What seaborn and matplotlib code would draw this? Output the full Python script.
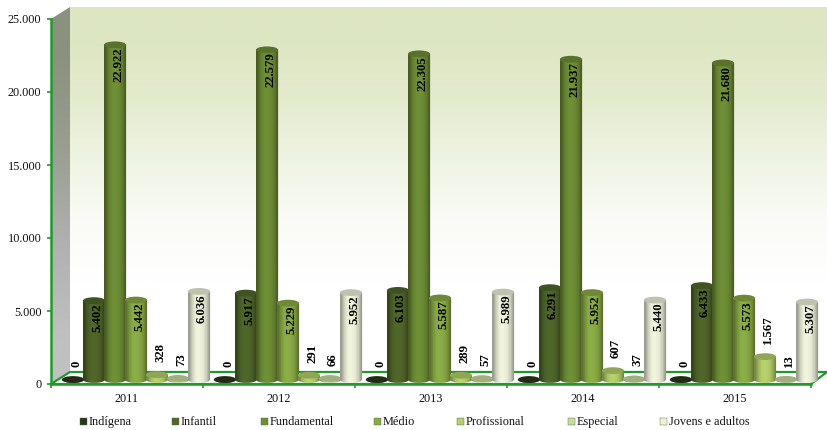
import numpy as np
import pandas as pd
import seaborn as sns
import matplotlib.pyplot as plt
from matplotlib.colors import to_rgb
from matplotlib.patches import Ellipse, Polygon, Rectangle

years = ["2011", "2012", "2013", "2014", "2015"]
indigena = [0, 0, 0, 0, 0]
infantil = [5402, 5917, 6103, 6291, 6433]
fundamental = [22922, 22579, 22305, 21937, 21680]
medio = [5442, 5229, 5587, 5952, 5573]
profissional = [328, 291, 289, 607, 1567]
especial = [73, 66, 57, 37, 13]
jovens = [6036, 5952, 5989, 5440, 5307]

names = ["Indígena", "Infantil", "Fundamental", "Médio", "Profissional", "Especial", "Jovens e adultos"]
colors = ["#2b3619", "#4f6629", "#6f8e36", "#8bac45", "#b5d06a", "#c9d9a0", "#eef2da"]
legend_x = [80, 172, 261, 374, 457, 568, 660]
yticks = [0, 5000, 10000, 15000, 20000, 25000]
ytick_labels = ["0", "5.000", "10.000", "15.000", "20.000", "25.000"]

df = pd.DataFrame({
    "ano": years * 7,
    "tipo": [n for n in names for _ in years],
    "valor": indigena + infantil + fundamental + medio + profissional + especial + jovens,
})

W, H = 827, 430
GREEN = "#1f9a2c"

sns.set_theme(style="white")
plt.rcParams["font.family"] = ["Liberation Serif", "DejaVu Serif"]

fig = plt.figure(figsize=(W / 100, H / 100), dpi=100)
fig.patch.set_facecolor("white")

# background in pixel coordinates: back wall, side wall, floor, legend
bg = fig.add_axes([0, 0, 1, 1], zorder=0)
bg.set_xlim(0, W)
bg.set_ylim(H, 0)
bg.axis("off")

wall = np.array([[to_rgb("#dde6c2")], [to_rgb("#e3ebcd")], [to_rgb("#eef4e3")], [to_rgb("#fafbf6")], [(1, 1, 1)], [(1, 1, 1)]])
bg.imshow(wall, extent=(70, W, 372, 7), aspect="auto", interpolation="bilinear", zorder=1)
side = np.array([[to_rgb("#8a917c")], [to_rgb("#999e90")], [to_rgb("#b0b0b0")], [to_rgb("#c0c0c0")]])
im = bg.imshow(side, extent=(51, 70, 384, 7), aspect="auto", interpolation="bilinear", zorder=1)
im.set_clip_path(Polygon([(51, 19), (70, 7), (70, 372), (51, 384)], transform=bg.transData))
bg.set_xlim(0, W)
bg.set_ylim(H, 0)
bg.add_patch(Polygon([(51, 384), (70, 372), (827, 372), (811, 384)], facecolor="white", edgecolor=GREEN, lw=1.6, zorder=2))

for x, name, color in zip(legend_x, names, colors):
    bg.add_patch(Rectangle((x, 418), 7, 7, facecolor=color, edgecolor="#55683a", lw=0.3, zorder=2))
    bg.text(x + 9, 425, name, fontsize=8.8, va="baseline", ha="left", color="#111111")

# front axis with the ticks and labels
ax = fig.add_axes([51 / W, (H - 384) / H, 760 / W, 365 / H], zorder=1)
ax.patch.set_alpha(0)
ax.set_xlim(-0.5, 4.5)
ax.set_ylim(0, 25000)
for s in ["top", "right"]:
    ax.spines[s].set_visible(False)
for s in ["left", "bottom"]:
    ax.spines[s].set_color(GREEN)
    ax.spines[s].set_linewidth(1.8)
ax.set_yticks(yticks, ytick_labels, fontsize=8.8, color="#111111")
ax.set_xticks(range(5), years, fontsize=8.8, color="#111111")
ax.set_xticks([-0.5, 0.5, 1.5, 2.5, 3.5, 4.5], minor=True)
ax.tick_params(axis="y", length=3, width=1.2, color=GREEN, pad=4, left=True)
ax.tick_params(axis="x", which="major", length=0, pad=6.5)
ax.tick_params(axis="x", which="minor", length=3, width=1.2, color=GREEN, bottom=True)

# bars stand in the middle of the floor, so this axes sits a bit right and up
ax_bars = fig.add_axes([(51 + 9) / W, (H - 384 + 4.5) / H, 760 / W, 365 / H], zorder=2)
sns.barplot(data=df, x="ano", y="valor", hue="tipo", hue_order=names, order=years,
            palette=colors, width=0.967, gap=0, legend=False, errorbar=None, saturation=1, ax=ax_bars)
ax_bars.set_xlim(-0.5, 4.5)
ax_bars.set_ylim(0, 25000)
ax_bars.axis("off")
ax_bars.patch.set_alpha(0)

ry = 3.4 * 5000 / 73  # half height of the cylinder ends
grow = 0.6 / 152  # bars overlap a little, half a pixel each side
shade = [0.66, 0.86, 0.98, 1.02, 1.0, 0.95, 0.84, 0.64]

for container, color in zip(ax_bars.containers, colors):
    base = np.array(to_rgb(color))
    grad = np.clip(np.array([[base * s for s in shade]]), 0, 1)
    for bar in container:
        x0, w, val = bar.get_x() - grow, bar.get_width() + 2 * grow, bar.get_height()
        xc = x0 + w / 2
        t = np.linspace(np.pi, 2 * np.pi, 30)
        outline = list(zip(xc + w / 2 * np.cos(t), ry * np.sin(t)))
        outline += [(x0 + w, val), (x0, val)]
        body = Polygon(outline, transform=ax_bars.transData)
        im = ax_bars.imshow(grad, extent=(x0, x0 + w, -ry, val + 1), aspect="auto",
                            interpolation="bilinear", zorder=3)
        im.set_clip_path(body)
        im.set_clip_box(fig.bbox)
        ax_bars.add_patch(Ellipse((xc, val), w, 2 * ry, facecolor=base * 0.8, edgecolor="none",
                                  zorder=3, clip_on=False))
        bar.set_visible(False)

        label = f"{val:,.0f}".replace(",", ".")
        if val > 2000:
            ax_bars.annotate(label, (xc, val), xytext=(2.2, -2), textcoords="offset points", rotation=90,
                             ha="center", va="top", fontsize=9.2, fontweight="bold", color="black", zorder=5)
        else:
            ax_bars.annotate(label, (xc, val), xytext=(2.2, 9), textcoords="offset points", rotation=90,
                             ha="center", va="bottom", fontsize=9.2, fontweight="bold", color="black", zorder=5)

ax_bars.set_xlim(-0.5, 4.5)
ax_bars.set_ylim(0, 25000)

fig.savefig("out.png", dpi=100)
